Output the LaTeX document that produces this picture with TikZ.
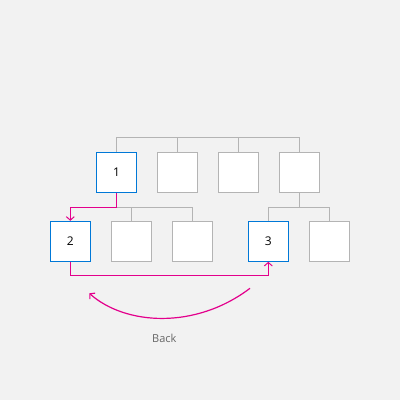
\documentclass[tikz,border=0pt]{standalone}
\usepackage{fontspec}
\setmainfont{Open Sans}
\usetikzlibrary{arrows.meta}
\definecolor{bgcol}{HTML}{F2F2F2}
\definecolor{linecol}{HTML}{B4B4B4}
\definecolor{selcol}{HTML}{0078D7}
\definecolor{navcol}{HTML}{E3008C}
\begin{document}
\begin{tikzpicture}[
                x=1pt,y=-1pt,
                every path/.append style={line width=1pt},
                item/.style={draw=linecol,fill=white,minimum size=40pt,inner sep=0pt,
                    font=\fontsize{12}{14}\selectfont,text=black},
                focused/.style={item,draw=selcol},
                tree/.style={draw=linecol},
                nav/.style={draw=navcol,-{Straight Barb[length=3.5pt,width=8pt]}}
            ]
                \fill[bgcol] (0,0) rectangle (400,400);
                \useasboundingbox (0,0) rectangle (400,400);

                % top row
                \node[focused] (t1) at (116.5,172.3) {1};
                \node[item] (t2) at (177.3,172.3) {};
                \node[item] (t3) at (238.3,172.3) {};
                \node[item] (t4) at (299.3,172.3) {};

                % bottom row
                \node[focused] (b1) at (70.3,241.3) {2};
                \node[item] (b2) at (131.3,241.3) {};
                \node[item] (b3) at (192.3,241.3) {};
                \node[focused] (b4) at (268.3,241.3) {3};
                \node[item] (b5) at (329.3,241.3) {};

                \coordinate (top) at (0,137.3);
                \coordinate (left) at (0,207.3);
                \coordinate (right) at (0,207.3);
                \coordinate (low) at (0,275);

                \draw[tree] (t1.north) |- (top -| t4.north) -- (t4.north);
                \draw[tree] (t2.north) -- (t2.north |- top);
                \draw[tree] (t3.north) -- (t3.north |- top);
                \draw[tree] (t1.south |- left) -| (b3.north);
                \draw[tree] (b2.north) -- (b2.north |- left);
                \draw[tree] (t4.south) -- (t4.south |- right);
                \draw[tree] (b4.north) |- (right -| t4.south) -| (b5.north);

                \draw[nav] (t1.south) |- (left -| b1.north) -- (b1.north);
                \draw[nav] (b1.south) |- (low -| b4.south) -- (b4.south);

                \coordinate (arcstart) at (250,288.3);
                \coordinate (arcend) at (89.3,293.3);
                \draw[nav,line width=1.2pt] (arcstart) .. controls (195,330) and (125,325) .. (arcend);
                \node[text=gray!80!black,font=\fontsize{11}{13}\selectfont] (back) at (164.3,338.3) {Back};
            \end{tikzpicture}
\end{document}
